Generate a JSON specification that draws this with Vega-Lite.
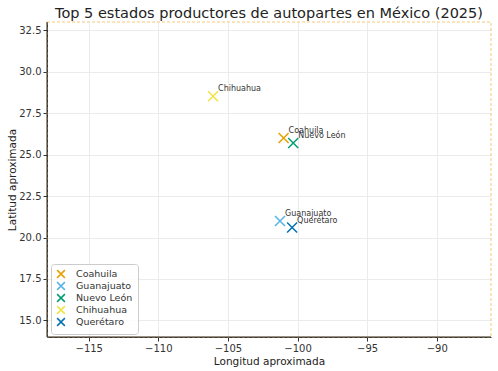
{
  "$schema": "https://vega.github.io/schema/vega-lite/v6.json",
  "width": 444,
  "height": 315,
  "autosize": "none",
  "padding": {"left": 47, "top": 22, "right": 7, "bottom": 34},
  "background": "white",
  "config": {
    "font": "DejaVu Sans",
    "view": {"stroke": null},
    "axis": {
      "domainColor": "#333333",
      "tickColor": "#333333",
      "labelColor": "#333333",
      "titleColor": "#222222",
      "labelFontSize": 10,
      "titleFontSize": 10.5,
      "titleFontWeight": "normal",
      "gridColor": "#ebebeb",
      "tickSize": 4,
      "labelPadding": 2
    }
  },
  "title": {
    "text": "Top 5 estados productores de autopartes en México (2025)",
    "fontSize": 14.5,
    "fontWeight": "normal",
    "color": "#222222",
    "anchor": "middle",
    "offset": 0
  },
  "datasets": {
    "estados": [
      {"estado": "Coahuila", "lon": -101.0, "lat": 26.0},
      {"estado": "Guanajuato", "lon": -101.26, "lat": 21.0},
      {"estado": "Nuevo León", "lon": -100.31, "lat": 25.7},
      {"estado": "Chihuahua", "lon": -106.07, "lat": 28.52},
      {"estado": "Querétaro", "lon": -100.39, "lat": 20.6}
    ],
    "box": [
      {"x1": -118, "x2": -86.1, "y1": 14, "y2": 33}
    ]
  },
  "layer": [
    {
      "data": {"name": "box"},
      "mark": {"type": "rect", "fill": null, "filled": false, "stroke": "#f3c97a", "strokeDash": [3, 2], "strokeWidth": 1, "clip": false},
      "encoding": {
        "x": {"field": "x1", "type": "quantitative", "scale": {"domain": [-118, -86.1], "nice": false, "zero": false}},
        "x2": {"field": "x2"},
        "y": {"field": "y1", "type": "quantitative", "scale": {"domain": [14, 33], "nice": false, "zero": false}},
        "y2": {"field": "y2"}
      }
    },
    {
      "data": {"name": "estados"},
      "mark": {"type": "point", "shape": "M-1,-1L1,1M1,-1L-1,1", "filled": false, "size": 100, "strokeWidth": 1.5, "opacity": 1},
      "encoding": {
        "x": {
          "field": "lon", "type": "quantitative",
          "scale": {"domain": [-118, -86.1], "nice": false, "zero": false},
          "axis": {"title": "Longitud aproximada", "values": [-115, -110, -105, -100, -95, -90], "grid": true, "zindex": 0, "titlePadding": 3}
        },
        "y": {
          "field": "lat", "type": "quantitative",
          "scale": {"domain": [14, 33], "nice": false, "zero": false},
          "axis": {"title": "Latitud aproximada", "values": [15, 17.5, 20, 22.5, 25, 27.5, 30, 32.5], "format": ".1f", "grid": true, "zindex": 0, "titlePadding": 1}
        },
        "color": {
          "field": "estado", "type": "nominal",
          "scale": {
            "domain": ["Coahuila", "Guanajuato", "Nuevo León", "Chihuahua", "Querétaro"],
            "range": ["#E69F00", "#56B4E9", "#009E73", "#F0E442", "#0072B2"]
          },
          "legend": {
            "title": null,
            "orient": "none",
            "legendX": 4,
            "legendY": 242,
            "symbolType": "M-1,-1L1,1M1,-1L-1,1",
            "symbolSize": 60,
            "symbolStrokeWidth": 1.5,
            "symbolFillColor": "transparent",
            "labelFontSize": 9.5,
            "labelColor": "#333333",
            "rowPadding": -2,
            "padding": 5,
            "strokeColor": "#cccccc",
            "fillColor": "rgba(255,255,255,0.8)",
            "cornerRadius": 3,
            "labelOffset": 10
          }
        }
      }
    },
    {
      "data": {"name": "estados"},
      "mark": {"type": "text", "align": "left", "baseline": "bottom", "dx": 5, "dy": -3, "fontSize": 8, "color": "#333333"},
      "encoding": {
        "x": {"field": "lon", "type": "quantitative"},
        "y": {"field": "lat", "type": "quantitative"},
        "text": {"field": "estado"}
      }
    },
    {
      "data": {"name": "box"},
      "mark": {"type": "rule", "color": "#333333", "strokeWidth": 1, "clip": false},
      "encoding": {
        "x": {"field": "x1", "type": "quantitative"},
        "y": {"field": "y1", "type": "quantitative"},
        "y2": {"field": "y2"}
      }
    },
    {
      "data": {"name": "box"},
      "mark": {"type": "rule", "color": "#333333", "strokeWidth": 1, "clip": false},
      "encoding": {
        "y": {"field": "y1", "type": "quantitative"},
        "x": {"field": "x1", "type": "quantitative"},
        "x2": {"field": "x2"}
      }
    }
  ]
}
